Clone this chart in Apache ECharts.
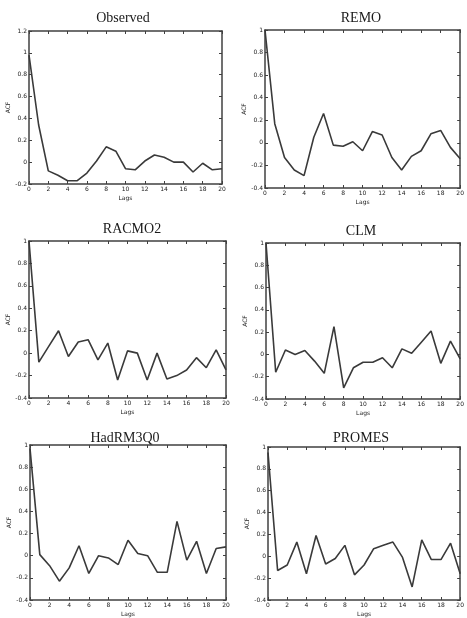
<!DOCTYPE html>
<html><head><meta charset="utf-8">
<script src="https://cdn.jsdelivr.net/npm/echarts@6/dist/echarts.min.js"></script>
<style>html,body{margin:0;padding:0;background:#fff}#c{width:467px;height:618px}</style>
</head><body><div id="c"></div>
<script>
const lags = [0,1,2,3,4,5,6,7,8,9,10,11,12,13,14,15,16,17,18,19,20];
const xTicks = [0,2,4,6,8,10,12,14,16,18,20];
const titles = ["Observed","REMO","RACMO2","CLM","HadRM3Q0","PROMES"];
const observed = [0.98,0.34,-0.08,-0.12,-0.17,-0.17,-0.10,0.01,0.14,0.10,-0.06,-0.07,0.01,0.065,0.045,0.0,0.0,-0.09,-0.01,-0.07,-0.06];
const remo = [1.0,0.17,-0.13,-0.24,-0.29,0.05,0.26,-0.02,-0.03,0.01,-0.07,0.10,0.07,-0.13,-0.24,-0.12,-0.07,0.08,0.11,-0.04,-0.14];
const racmo2 = [1.0,-0.08,0.06,0.20,-0.03,0.10,0.12,-0.06,0.09,-0.24,0.02,0.0,-0.24,0.0,-0.23,-0.20,-0.15,-0.04,-0.13,0.03,-0.15];
const clm = [1.0,-0.16,0.04,0.0,0.035,-0.06,-0.17,0.25,-0.30,-0.12,-0.07,-0.07,-0.03,-0.12,0.05,0.01,0.11,0.21,-0.08,0.12,-0.04];
const hadrm3q0 = [0.97,0.01,-0.09,-0.23,-0.11,0.09,-0.16,0.0,-0.02,-0.08,0.14,0.02,0.0,-0.15,-0.15,0.31,-0.04,0.13,-0.16,0.065,0.08];
const promes = [0.95,-0.13,-0.08,0.13,-0.16,0.19,-0.07,-0.02,0.10,-0.17,-0.08,0.07,0.10,0.13,-0.01,-0.28,0.15,-0.03,-0.03,0.12,-0.16];
const yMin = [-0.2,-0.4,-0.4,-0.4,-0.4,-0.4];
const yMax = [1.2,1,1,1,1,1];
const seriesData = [observed, remo, racmo2, clm, hadrm3q0, promes];

const layout = [
  {left:29, top:31, width:193, height:153, tx:118, ty:6},
  {left:265, top:30, width:201, height:158, tx:356, ty:6},
  {left:29, top:241, width:197, height:157, tx:127, ty:217},
  {left:266, top:243, width:200, height:156, tx:356, ty:219},
  {left:30, top:445, width:196, height:156, tx:120, ty:426},
  {left:268, top:447, width:194, height:153, tx:356, ty:426}
];
const lineCol = '#3a3a3a', frameCol = '#404040';
const grids=[], xAxes=[], yAxes=[], series=[], title=[];
layout.forEach((L,i)=>{
  grids.push({left:L.left, top:L.top, width:L.width, height:L.height, show:false});
  title.push({text:titles[i], left:L.tx, top:L.ty, textAlign:'center',
    textStyle:{fontFamily:'Liberation Serif', fontWeight:'normal', fontSize:14, color:'#1a1a1a'}});
  const common = {type:'value', min:0, max:20, interval:2, gridIndex:i,
    axisLine:{show:true, onZero:false, lineStyle:{color:frameCol, width:1.5}},
    axisTick:{show:true, inside:true, length:3, lineStyle:{color:frameCol}},
    splitLine:{show:false}};
  xAxes.push(Object.assign({}, common, {position:'bottom',
    name:'Lags', nameLocation:'middle', nameGap:11,
    nameTextStyle:{fontSize:6, color:'#222', fontFamily:'DejaVu Sans'},
    axisLabel:{fontSize:6, color:'#222', margin:2, fontFamily:'DejaVu Sans',
      formatter:v=>xTicks.includes(v)?String(v):''}}));
  xAxes.push(Object.assign({}, common, {position:'top', axisLabel:{show:false}}));
  const yc = {type:'value', min:yMin[i], max:yMax[i], interval:0.2, gridIndex:i,
    axisLine:{show:true, onZero:false, lineStyle:{color:frameCol, width:1.5}},
    axisTick:{show:true, inside:true, length:3, lineStyle:{color:frameCol}},
    splitLine:{show:false}};
  yAxes.push(Object.assign({}, yc, {position:'left',
    name:'ACF', nameLocation:'middle', nameGap:17, nameRotate:90,
    nameTextStyle:{fontSize:6, color:'#222', fontFamily:'DejaVu Sans'},
    axisLabel:{fontSize:6, color:'#222', margin:2, fontFamily:'DejaVu Sans',
      formatter:v=>{const r=Math.round(v*10)/10; return r===0?'0':String(r);}}}));
  yAxes.push(Object.assign({}, yc, {position:'right', axisLabel:{show:false}}));
  series.push({type:'line', xAxisIndex:2*i, yAxisIndex:2*i, symbol:'none',
    lineStyle:{color:lineCol, width:1.6}, animation:false,
    data: lags.map((l,k)=>[l, seriesData[i][k]])});
});
const chart = echarts.init(document.getElementById('c'), null, {renderer:'canvas'});
chart.setOption({backgroundColor:'#fff', animation:false, title, grid:grids, xAxis:xAxes, yAxis:yAxes, series});
</script></body></html>
